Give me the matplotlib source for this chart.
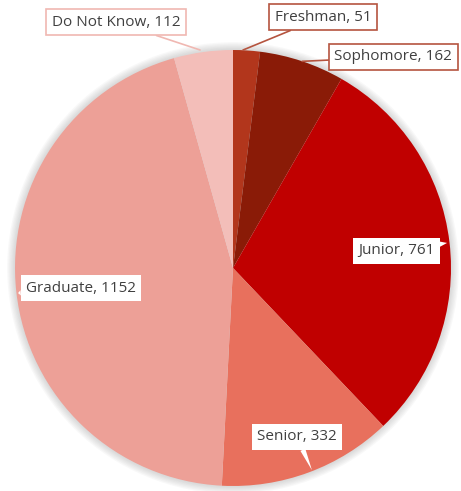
import matplotlib.pyplot as plt
from matplotlib.patches import Circle

categories = ["Freshman", "Sophomore", "Junior", "Senior", "Graduate", "Do Not Know"]
counts = [51, 162, 761, 332, 1152, 112]
colors = ["#B2361C", "#8A1B07", "#C00000", "#E8705D", "#EDA097", "#F3BEB9"]

# label box centre, leader/pointer end, box edge colour, style
label_pos = [(0.413, 1.151), (0.735, 0.968), (0.748, 0.078),
             (0.294, -0.775), (-0.697, -0.092), (-0.537, 1.128)]
tip_pos = [(0.046, 1.0), (0.317, 0.948), (0.982, 0.115),
           (0.362, -0.927), (-0.986, -0.115), (-0.151, 1.0)]
edge_cols = ["#B5543F", "#B5543F", "none", "none", "none", "#F0B8B2"]
callout = [False, False, True, True, True, False]

plt.rcParams['font.family'] = ['Open Sans', 'DejaVu Sans']

fig = plt.figure(figsize=(4.61, 4.91), dpi=100)
ax = fig.add_axes([0, 0, 1, 1])

r = 218.0

# soft glow round the pie
for k in range(6):
    ax.add_patch(Circle((0, 0), 1.0 + 0.006 * (k + 1), fc='#808080',
                        ec='none', alpha=0.05, zorder=0))

ax.pie(counts, colors=colors, startangle=90, counterclock=False,
       radius=1.0, wedgeprops=dict(linewidth=0, zorder=1))

for i, c in enumerate(categories):
    txt = f"{c}, {counts[i]}"
    if callout[i]:
        ax.annotate(txt, xy=tip_pos[i], xytext=label_pos[i],
                    ha='center', va='center', fontsize=11, color='#404040',
                    bbox=dict(boxstyle='square,pad=0.35', fc='white', ec='none'),
                    arrowprops=dict(arrowstyle='wedge,tail_width=0.35,shrink_factor=0.5',
                                    fc='white', ec='none', shrinkA=0, shrinkB=0),
                    zorder=5)
    else:
        ax.annotate(txt, xy=tip_pos[i], xytext=label_pos[i],
                    ha='center', va='center', fontsize=11, color='#404040',
                    bbox=dict(boxstyle='square,pad=0.35', fc='white',
                              ec=edge_cols[i], lw=1.2),
                    arrowprops=dict(arrowstyle='-', color=edge_cols[i], lw=1.2,
                                    shrinkA=0, shrinkB=0),
                    zorder=5)

ax.set_xlim(-233 / r, (461 - 233) / r)
ax.set_ylim(-(491 - 268) / r, 268 / r)
ax.set_aspect('equal')
ax.axis('off')

fig.savefig("out.png", dpi=100)
